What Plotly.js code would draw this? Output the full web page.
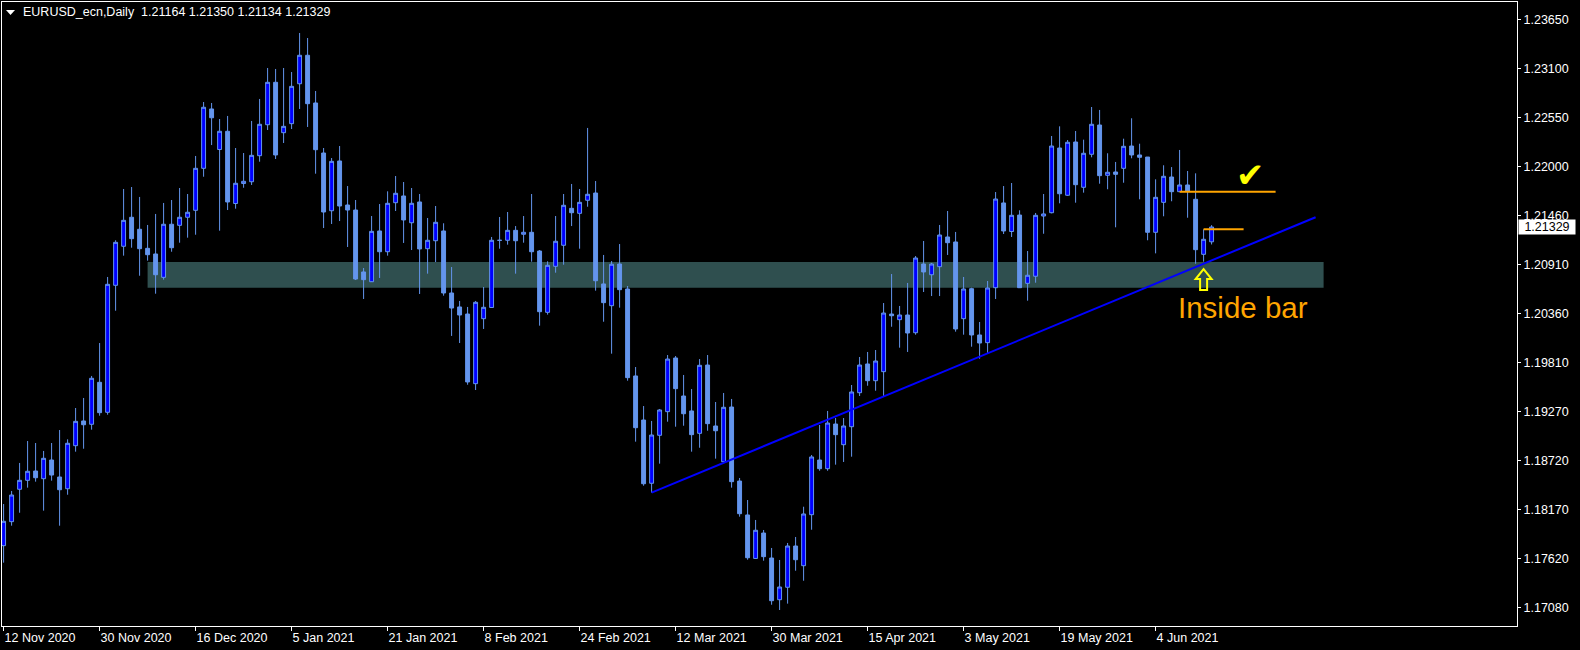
<!DOCTYPE html>
<html>
<head>
<meta charset="utf-8">
<script src="https://cdn.plot.ly/plotly-3.0.1.min.js"></script>
<style>
html,body{margin:0;padding:0;background:#000;overflow:hidden;}
#chart{width:1580px;height:650px;}
</style>
</head>
<body>
<div id="chart"></div>
<script>
// ---- Data (EURUSD_ecn, Daily) ----
const symbolName = 'EURUSD_ecn,Daily';
const open = [1.17769,1.18037,1.18399,1.18499,1.18603,1.18517,1.18726,1.18536,1.18405,1.18886,
1.19162,1.19125,1.19594,1.19259,1.20678,1.21114,1.21438,1.21304,1.21091,1.21028,
1.20767,1.21360,1.21348,1.21438,1.21516,1.21985,1.22648,1.22195,1.22399,1.21592,
1.21815,1.21835,1.22126,1.22472,1.22946,1.22383,1.22484,1.22930,1.23248,1.22715,
1.22156,1.21511,1.22067,1.21575,1.21519,1.20827,1.20718,1.21285,1.21053,1.21601,
1.21676,1.21377,1.21609,1.21087,1.21176,1.21285,1.20592,1.20436,1.20357,1.19579,
1.20305,1.20430,1.21181,1.21181,1.21292,1.21248,1.21270,1.21061,1.20376,1.20890,
1.21125,1.21538,1.21482,1.21628,1.21709,1.20693,1.20450,1.20916,1.20637,1.19665,
1.19173,1.18466,1.19002,1.19266,1.19866,1.19441,1.19274,1.19024,1.19787,1.19106,
1.18707,1.19318,1.18491,1.18112,1.17626,1.17910,1.17631,1.17165,1.17304,1.17765,
1.17545,1.18115,1.18726,1.18629,1.19128,1.18897,1.19098,1.19478,1.19799,1.19612,
1.19713,1.20357,1.20294,1.20346,1.20148,1.20916,1.20796,1.20886,1.21218,1.21162,
1.20305,1.20640,1.20123,1.20037,1.20651,1.21598,1.21279,1.21463,1.20700,1.20779,
1.21452,1.21489,1.22212,1.21684,1.22279,1.21773,1.22142,1.22469,1.21907,1.21944,
1.21985,1.22234,1.22134,1.22111,1.21270,1.21605,1.21888,1.21724,1.21799,1.21639,
1.21024,1.21164];
const high = [1.18234,1.18380,1.18693,1.18938,1.18916,1.18827,1.18916,1.19061,1.18957,1.19307,
1.19419,1.19665,1.20033,1.20771,1.21181,1.21754,1.21776,1.21665,1.21352,1.21475,
1.21598,1.21631,1.21765,1.21698,1.22123,1.22726,1.22715,1.22536,1.22570,1.22212,
1.22156,1.22514,1.22760,1.23106,1.23095,1.23106,1.23061,1.23497,1.23441,1.22849,
1.22212,1.22100,1.22234,1.21787,1.21631,1.20871,1.21452,1.21586,1.21728,1.21899,
1.21832,1.21765,1.21698,1.21430,1.21564,1.21371,1.20882,1.20503,1.20436,1.20503,
1.20659,1.21218,1.21441,1.21497,1.21340,1.21452,1.21698,1.21072,1.20946,1.21452,
1.21698,1.21810,1.21754,1.22436,1.21843,1.21017,1.20949,1.21139,1.20670,1.19765,
1.19329,1.19162,1.19296,1.19899,1.19888,1.19676,1.19519,1.19854,1.19899,1.19374,
1.19475,1.19408,1.18525,1.18279,1.18056,1.17944,1.17743,1.17609,1.17799,1.17866,
1.18204,1.18782,1.19117,1.19274,1.19195,1.19195,1.19564,1.19877,1.19933,1.19955,
1.20480,1.20804,1.20447,1.20704,1.21005,1.21173,1.20927,1.21352,1.21508,1.21274,
1.20771,1.20651,1.20268,1.20726,1.21720,1.21787,1.21821,1.21516,1.21061,1.21486,
1.21698,1.22346,1.22454,1.22301,1.22402,1.22305,1.22670,1.22637,1.22153,1.22056,
1.22316,1.22544,1.22260,1.22111,1.21862,1.22019,1.21999,1.22190,1.21955,1.21929,
1.21304,1.21350];
const low = [1.17579,1.17992,1.18137,1.18417,1.18484,1.18160,1.18495,1.17992,1.18338,1.18819,
1.18852,1.19065,1.19221,1.19232,1.20394,1.21009,1.21098,1.20785,1.20953,1.20584,
1.20741,1.21053,1.21154,1.21210,1.21243,1.21891,1.22245,1.21288,1.21519,1.21534,
1.21768,1.21799,1.22059,1.22413,1.22089,1.22268,1.22424,1.22648,1.22447,1.21925,
1.21318,1.21363,1.21396,1.21106,1.20737,1.20525,1.20715,1.20760,1.21009,1.21508,
1.21151,1.21072,1.20581,1.20808,1.20938,1.20562,1.20112,1.20033,1.19567,1.19508,
1.20190,1.20428,1.21087,1.21132,1.20808,1.21154,1.20942,1.20227,1.20350,1.20819,
1.20908,1.21340,1.21087,1.21556,1.20618,1.20271,1.19914,1.20428,1.19612,1.18931,
1.18439,1.18361,1.18685,1.19154,1.19098,1.19109,1.18819,1.18863,1.19053,1.18741,
1.18705,1.18417,1.18093,1.17612,1.17620,1.17601,1.17109,1.17050,1.17121,1.17489,
1.17377,1.17947,1.18606,1.18606,1.18674,1.18704,1.18763,1.19441,1.19556,1.19500,
1.19441,1.20215,1.19981,1.19933,1.20126,1.20603,1.20558,1.20558,1.21017,1.20160,
1.20126,1.19992,1.19858,1.19922,1.20525,1.21251,1.21218,1.20648,1.20506,1.20707,
1.21254,1.21482,1.21594,1.21676,1.21601,1.21713,1.22108,1.21813,1.21751,1.21326,
1.21824,1.22097,1.21639,1.21181,1.21035,1.21449,1.21617,1.21722,1.21433,1.20919,
1.20942,1.21134];
const close = [1.18041,1.18335,1.18499,1.18600,1.18528,1.18745,1.18558,1.18394,1.18913,1.19158,
1.19120,1.19639,1.19255,1.20689,1.21158,1.21404,1.21199,1.21087,1.21020,1.20796,
1.21360,1.21098,1.21438,1.21494,1.21985,1.22667,1.22550,1.22399,1.21609,1.21818,
1.21840,1.22130,1.22477,1.22946,1.22134,1.22454,1.22901,1.23248,1.22707,1.22193,
1.21497,1.22063,1.21564,1.21519,1.20748,1.20741,1.21281,1.21053,1.21594,1.21706,
1.21408,1.21594,1.21084,1.21181,1.21382,1.20592,1.20424,1.20346,1.19598,1.20488,
1.20432,1.21181,1.21180,1.21292,1.21176,1.21270,1.21053,1.20383,1.20901,1.21170,
1.21572,1.21489,1.21605,1.21695,1.20729,1.20484,1.20913,1.20629,1.19646,1.19087,
1.18461,1.19005,1.19285,1.19854,1.19523,1.19243,1.19009,1.19784,1.19132,1.19053,
1.19315,1.18484,1.18126,1.17634,1.17941,1.17646,1.17154,1.17307,1.17765,1.17612,
1.18123,1.18760,1.18629,1.19139,1.19009,1.19106,1.19486,1.19787,1.19612,1.19832,
1.20368,1.20338,1.20346,1.20145,1.20983,1.20827,1.20916,1.21240,1.21154,1.20190,
1.20637,1.20123,1.20033,1.20648,1.21642,1.21285,1.21460,1.20651,1.20790,1.21460,
1.21475,1.22234,1.21701,1.22276,1.21802,1.22153,1.22477,1.21903,1.21941,1.21918,
1.22231,1.22134,1.22108,1.21270,1.21661,1.21896,1.21724,1.21799,1.21728,1.21076,
1.21192,1.21329];

// x-axis date labels (one every 12 daily bars, first bar = 12 Nov 2020)
const dateTickBars = [0,12,24,36,48,60,72,84,96,108,120,132,144];
const dateTickLabels = ['12 Nov 2020','30 Nov 2020','16 Dec 2020','5 Jan 2021','21 Jan 2021','8 Feb 2021',
  '24 Feb 2021','12 Mar 2021','30 Mar 2021','15 Apr 2021','3 May 2021','19 May 2021','4 Jun 2021'];
// y-axis price labels
const priceTicks = [1.17080,1.17620,1.18170,1.18720,1.19270,1.19810,1.20360,1.20910,1.21460,1.22000,1.22550,1.23100,1.23650];

// drawn objects (bar index / price)
const zoneBars = [18, 165];
const zonePrices = [1.20651, 1.20938];
const trendBars = [81, 164];
const trendPrices = [1.18361, 1.21438];
const levelA = {bars:[147, 159], price:1.21724};
const levelB = {bars:[150, 155], price:1.21305};
const checkAt = {bar:155.9, price:1.21912};
const arrowTip = {bar:150, price:1.20860};
const insideLabelAt = {bar:154.9, price:1.20435};

// ---- Chart ----
const barIndex = open.map((_, i) => i);
const last = open.length - 1;
const fmt = v => v.toFixed(5);
const F = 'Liberation Sans, Arial, sans-serif';
const light = '#6495ED';

const trace = {
  type: 'candlestick',
  x: barIndex, open: open, high: high, low: low, close: close,
  increasing: {line: {color: light, width: 1}, fillcolor: '#0000FF'},
  decreasing: {line: {color: light, width: 1}, fillcolor: light},
  whiskerwidth: 0,
  hoverinfo: 'skip'
};

const layout = {
  width: 1580, height: 650,
  paper_bgcolor: '#000', plot_bgcolor: '#000',
  margin: {l: 2, r: 63, t: 2, b: 24},
  showlegend: false, hovermode: false, dragmode: false,
  xaxis: {
    type: 'linear', range: [-0.2, 189.175],
    showgrid: false, zeroline: false,
    showline: true, linecolor: '#fff', linewidth: 1, mirror: true,
    ticks: 'outside', ticklen: 4, tickcolor: '#fff', tickwidth: 1,
    tickvals: dateTickBars, ticktext: dateTickLabels,
    ticklabelposition: 'outside right',
    tickfont: {family: F, size: 12.5, color: '#fff'},
    rangeslider: {visible: false}, fixedrange: true
  },
  yaxis: {
    side: 'right', range: [1.168713, 1.238433],
    showgrid: false, zeroline: false,
    showline: true, linecolor: '#fff', linewidth: 1, mirror: true,
    ticks: 'outside', ticklen: 3, tickcolor: '#fff', tickwidth: 1,
    tickvals: priceTicks, ticktext: priceTicks.map(fmt),
    tickfont: {family: F, size: 12.5, color: '#fff'},
    fixedrange: true
  },
  shapes: [
    {type: 'rect', xref: 'x', yref: 'y', x0: zoneBars[0], x1: zoneBars[1], y0: zonePrices[0], y1: zonePrices[1],
     fillcolor: '#2F4F4F', line: {width: 0}, layer: 'below'},
    {type: 'line', xref: 'x', yref: 'y', x0: trendBars[0], x1: trendBars[1], y0: trendPrices[0], y1: trendPrices[1],
     line: {color: '#0000FF', width: 2}},
    {type: 'line', xref: 'x', yref: 'y', x0: levelA.bars[0], x1: levelA.bars[1], y0: levelA.price, y1: levelA.price,
     line: {color: '#FFA500', width: 2}},
    {type: 'line', xref: 'x', yref: 'y', x0: levelB.bars[0], x1: levelB.bars[1], y0: levelB.price, y1: levelB.price,
     line: {color: '#FFA500', width: 2}},
    // hollow up-arrow marker under the inside bar
    {type: 'path', xref: 'x', yref: 'y', xsizemode: 'pixel', ysizemode: 'pixel', xanchor: arrowTip.bar, yanchor: arrowTip.price,
     path: 'M 0 0 L 8 -10 L 3.5 -10 L 3.5 -21 L -3.5 -21 L -3.5 -10 L -8 -10 Z', line: {color: '#FFFF00', width: 2}},
    // small menu triangle in the top-left corner
    {type: 'path', xref: 'paper', yref: 'paper', xsizemode: 'pixel', ysizemode: 'pixel', xanchor: 0, yanchor: 1,
     path: 'M 4 -8 L 13 -8 L 8.5 -13 Z', fillcolor: '#fff', line: {width: 0}}
  ],
  annotations: [
    {xref: 'paper', yref: 'paper', x: 19/1515, y: 1, xanchor: 'left', yanchor: 'top', yshift: -1, showarrow: false,
     text: symbolName + '  ' + [open[last], high[last], low[last], close[last]].map(fmt).join(' '),
     font: {family: F, size: 12.5, color: '#fff'}},
    {xref: 'paper', yref: 'y', x: 1, xanchor: 'left', xshift: 1, y: close[last], yanchor: 'middle', showarrow: false,
     text: fmt(close[last]), bgcolor: '#fff', width: 54, height: 12, borderpad: 1,
     font: {family: F, size: 12.5, color: '#000'}},
    {xref: 'x', yref: 'y', x: checkAt.bar, y: checkAt.price, showarrow: false, text: '\u2714',
     font: {family: 'DejaVu Sans', size: 34, color: '#FFFF00'}},
    {xref: 'x', yref: 'y', x: insideLabelAt.bar, y: insideLabelAt.price, showarrow: false, text: 'Inside bar',
     font: {family: F, size: 29.5, color: '#FFA500'}}
  ]
};

Plotly.newPlot('chart', [trace], layout, {displayModeBar: false, staticPlot: true});
</script>
</body>
</html>
